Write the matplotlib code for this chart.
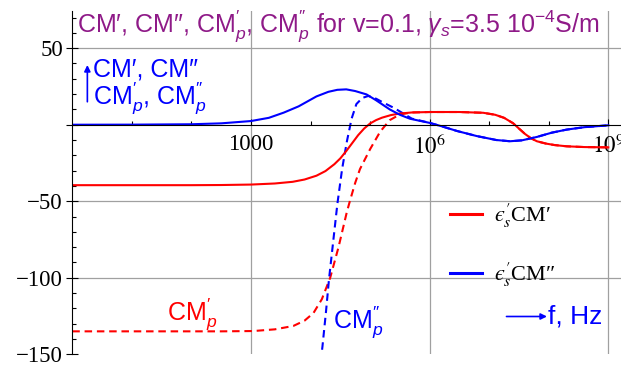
import numpy as np
import matplotlib
matplotlib.use("Agg")
import matplotlib.pyplot as plt
from matplotlib.ticker import FixedLocator, NullFormatter

plt.rcParams['mathtext.fontset'] = 'custom'
plt.rcParams['mathtext.rm'] = 'Liberation Sans'
plt.rcParams['mathtext.it'] = 'Liberation Sans:italic'
plt.rcParams['mathtext.bf'] = 'Liberation Sans:bold'
plt.rcParams['mathtext.fallback'] = 'stixsans'

# frequencies given as log10(f / Hz)
lf_cm1 = [0, 1, 2, 2.5, 3.0, 3.4, 3.7, 3.9, 4.1, 4.25, 4.4, 4.5, 4.6, 4.7, 4.8,
          4.9, 5.0, 5.1, 5.2, 5.35, 5.5, 5.7, 6.0, 6.5, 6.9, 7.1, 7.25, 7.4,
          7.5, 7.6, 7.7, 7.8, 7.95, 8.1, 8.3, 8.6, 9.0]
cm1 = [-39.5, -39.5, -39.5, -39.4, -39.1, -38.4, -37.3, -35.8, -33.3, -30.3,
       -25.8, -22.0, -17.2, -12.0, -6.8, -2.5, 0.8, 3.0, 4.6, 6.3, 7.3, 8.0,
       8.3, 8.3, 7.8, 6.5, 4.5, 1.0, -2.5, -6.0, -8.8, -10.8, -12.3, -13.3,
       -14.1, -14.6, -14.8]

lf_cm2 = [0, 1, 2, 2.5, 3.0, 3.3, 3.55, 3.8, 4.1, 4.3, 4.45, 4.6, 4.75, 4.94,
          5.1, 5.33, 5.5, 5.67, 6.0, 6.2, 6.46, 6.79, 7.12, 7.35, 7.55, 7.8,
          8.05, 8.3, 8.6, 9.0]
cm2 = [0.0, 0.05, 0.3, 0.9, 2.4, 4.5, 7.9, 12.0, 18.5, 21.5, 22.8, 23.1, 22.0,
       19.8, 16.0, 10.0, 6.5, 3.9, 1.2, -1.0, -4.1, -7.4, -10.0, -10.8, -10.2,
       -8.0, -5.2, -3.2, -1.6, -0.4]

lf_cm1p = [0, 1, 2, 2.5, 3.04, 3.4, 3.71, 3.9, 4.05, 4.19, 4.33, 4.47, 4.61,
           4.66, 4.75, 4.83, 5.0, 5.17, 5.33, 5.5, 5.7, 6.0, 6.5, 6.9, 7.1,
           7.25, 7.4, 7.5, 7.6, 7.7, 7.8, 7.95, 8.1, 8.3, 8.6, 9.0]
cm1p = [-135.0, -135.0, -135.0, -135.0, -134.8, -133.7, -131.5, -128.0,
        -123.0, -114.0, -100.0, -80.0, -57.0, -50.0, -38.0, -29.0, -16.0,
        -4.5, 3.0, 6.7, 8.0, 8.3, 8.3, 7.8, 6.5, 4.5, 1.0, -2.5, -6.0, -8.8,
        -10.8, -12.3, -13.3, -14.1, -14.6, -14.8]

lf_cm2p = [4.17, 4.2, 4.26, 4.31, 4.37, 4.45, 4.53, 4.61, 4.69, 4.77, 4.87,
           4.97, 5.1, 5.22, 5.4, 5.55, 5.7, 6.0, 6.2, 6.46, 6.79, 7.12, 7.35,
           7.55, 7.8, 8.05, 8.3, 8.6, 9.0]
cm2p = [-155.0, -145.0, -122.0, -101.0, -80.0, -52.0, -29.0, -11.0, 4.0,
        13.5, 17.5, 18.8, 17.0, 14.5, 11.0, 7.5, 4.0, 1.2, -1.0, -4.1, -7.4,
        -10.0, -10.8, -10.2, -8.0, -5.2, -3.2, -1.6, -0.4]

xmajor = [1e3, 1e6, 1e9]
xmajor_labels = ['1000', r'$10^6$', r'$10^9$']
xminor = [1e1, 1e2, 1e4, 1e5, 1e7, 1e8]
ymajor = [-150, -100, -50, 0, 50]
ymajor_labels = [u'\u2212150', u'\u2212100', u'\u221250', '', '50']
yminor = [v for v in range(-140, 80, 10) if v % 50 != 0]

P1 = u"\u2032"
P2 = u"\u2033"
CMp1 = "CM$^{" + P1 + "}_{p}$"
CMp2 = "CM$^{" + P2 + "}_{p}$"
title = (u"CM" + P1 + ", CM" + P2 + ", " + CMp1 + ", " + CMp2 + " "
         u"for v=0.1, $\\gamma_s$=3.5 10$^{\u22124}$S/m")

fig = plt.figure(figsize=(6.21, 3.67), dpi=100)
ax = fig.add_axes([72.3 / 621, 12.7 / 367, 1 - 72.3 / 621, 343.3 / 367])
ax.set_xscale('log')
ax.set_xlim(1, 10 ** 9.213)
ax.set_ylim(-150, 74.3)

for x in xmajor:
    ax.axvline(x, color='#a0a0a0', lw=0.9, zorder=0)
for y in [50, -50, -100]:
    ax.axhline(y, color='#a0a0a0', lw=0.9, zorder=0)

dash = (3.6, 2.3)
ax.plot(10 ** np.array(lf_cm1p), cm1p, color='red', lw=1.5, dashes=dash)
ax.plot(10 ** np.array(lf_cm2p), cm2p, color='blue', lw=1.5, dashes=dash)
l1, = ax.plot(10 ** np.array(lf_cm1), cm1, color='red', lw=1.5)
l2, = ax.plot(10 ** np.array(lf_cm2), cm2, color='blue', lw=1.5)

for s in ['top', 'right']:
    ax.spines[s].set_visible(False)
ax.spines['bottom'].set_position(('data', 0))
ax.spines['left'].set_linewidth(0.8)
ax.spines['bottom'].set_linewidth(0.8)

ax.xaxis.set_major_locator(FixedLocator(xmajor))
ax.xaxis.set_minor_locator(FixedLocator(xminor))
ax.xaxis.set_minor_formatter(NullFormatter())
ax.set_xticks(xmajor)
ax.set_xticklabels(xmajor_labels)
ax.yaxis.set_major_locator(FixedLocator(ymajor))
ax.yaxis.set_minor_locator(FixedLocator(yminor))
ax.set_yticks(ymajor)
ax.set_yticklabels(ymajor_labels)
ax.tick_params(axis='both', which='minor', direction='in', length=3,
               width=0.8)
ax.tick_params(axis='x', which='major', direction='in', length=4.5,
               width=0.8, labelsize=16.5, pad=7)
ax.tick_params(axis='y', which='major', direction='inout', length=8.5,
               width=0.8, labelsize=16.5, pad=2.5)
for t in ax.get_xticklabels() + ax.get_yticklabels():
    t.set_fontfamily('Liberation Serif')
    t.set_math_fontfamily('stix')

purple = '#8f1a88'
sans = ['Liberation Sans', 'DejaVu Sans']
ax.text(1.22, 60.8, title, color=purple, fontsize=18, family=sans,
        va='baseline', ha='left')
ax.text(2.23, 31.5, u"CM" + P1 + ", CM" + P2, color='blue', fontsize=18,
        family=sans, va='baseline', ha='left')
ax.text(2.23, 13.5, CMp1 + ", " + CMp2, color='blue',
        fontsize=18, family=sans, va='baseline', ha='left')
ax.annotate('', xy=(1.79, 39), xytext=(1.79, 15),
            arrowprops=dict(arrowstyle='-|>', color='blue', lw=1.2,
                            mutation_scale=9, shrinkA=0, shrinkB=0))
ax.text(10 ** 1.59, -127.4, CMp1, color='red', fontsize=18,
        family=sans, va='baseline', ha='left')
ax.text(10 ** 4.377, -132.8, CMp2, color='blue',
        fontsize=18, family=sans, va='baseline', ha='left')
ax.annotate('', xy=(10 ** 7.97, -125.3), xytext=(10 ** 7.29, -125.3),
            arrowprops=dict(arrowstyle='-|>', color='blue', lw=1.2,
                            mutation_scale=9, shrinkA=0, shrinkB=0))
ax.text(10 ** 7.99, -125.3, "f, Hz", color='blue', fontsize=19,
        family=sans, va='center', ha='left')

leg = ax.legend([l1, l2],
                [u"$\u03f5^{\u2032}_{s}$CM" + P1,
                 u"$\u03f5^{\u2032}_{s}$CM" + P2],
                loc='upper left', bbox_to_anchor=(0.688, 0.443), frameon=False,
                borderpad=0, borderaxespad=0, handlelength=1.45,
                handletextpad=0.55, labelspacing=1.38,
                prop={'family': 'Liberation Serif', 'size': 16})
for t in leg.get_texts():
    t.set_math_fontfamily('stix')
for h in leg.get_lines():
    h.set_linewidth(2.2)

fig.savefig('out.png', dpi=100)
